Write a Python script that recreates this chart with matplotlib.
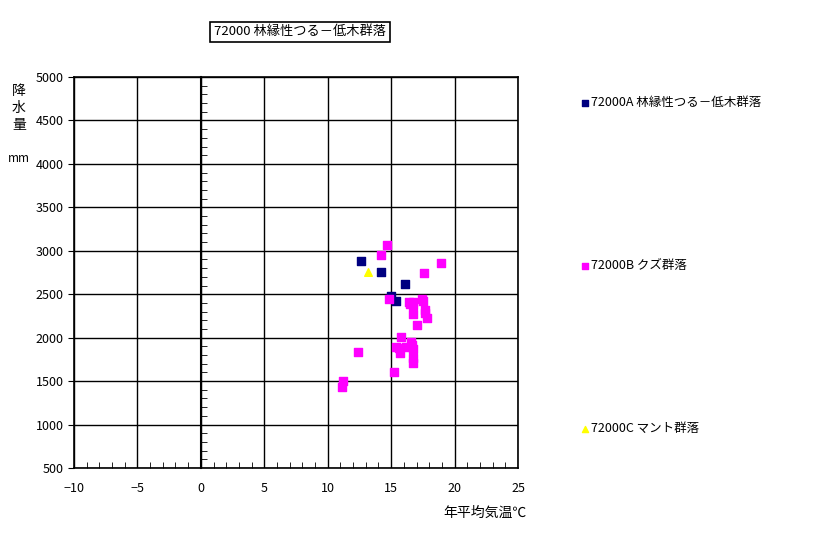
import matplotlib
matplotlib.use("Agg")
import matplotlib.pyplot as plt
from matplotlib.ticker import MultipleLocator

plt.rcParams['font.family'] = ['Noto Sans CJK JP', 'DejaVu Sans']

# annual mean temperature (degC) / precipitation (mm)
a_temp = [12.6, 14.2, 16.1, 15.0, 15.4]
a_prec = [2886, 2759, 2621, 2483, 2422]

b_temp = [14.7, 14.2, 18.9, 17.6, 14.8, 16.4, 16.7, 16.5, 16.7, 17.4,
          17.5, 16.7, 17.65, 17.65, 17.8, 17.0, 15.75, 15.4, 15.6, 15.7,
          16.15, 16.6, 16.65, 16.75, 16.7, 16.75, 12.4, 15.2, 11.2, 11.1]
b_prec = [3070, 2955, 2863, 2748, 2448, 2407, 2407, 2384, 2376, 2445,
          2425, 2269, 2318, 2280, 2230, 2149, 2011, 1896, 1878, 1827,
          1896, 1954, 1916, 1866, 1763, 1705, 1839, 1608, 1505, 1429]

c_temp = [13.2]
c_prec = [2756]

title = "72000 林縁性つる－低木群落"
labels = ["72000A 林縁性つる－低木群落", "72000B クズ群落", "72000C マント群落"]

fig = plt.figure(figsize=(8.16, 5.34), dpi=100)
ax = fig.add_axes([74 / 816, 66 / 534, 444 / 816, 391 / 534])

ax.scatter(a_temp, a_prec, marker='s', s=26, color='#000080', label=labels[0], zorder=3)
ax.scatter(b_temp, b_prec, marker='s', s=26, color='#FF00FF', label=labels[1], zorder=3)
ax.scatter(c_temp, c_prec, marker='^', s=30, color='#FFFF00', label=labels[2], zorder=3)

ax.set_xlim(-10, 25)
ax.set_ylim(500, 5000)
ax.xaxis.set_major_locator(MultipleLocator(5))
ax.yaxis.set_major_locator(MultipleLocator(500))
ax.xaxis.set_minor_locator(MultipleLocator(1))
ax.grid(True, color='black', linewidth=1)
ax.set_axisbelow(True)
for s in ax.spines.values():
    s.set_linewidth(1.2)
ax.tick_params(axis='x', which='major', length=0, pad=10, labelsize=9)
ax.tick_params(axis='x', which='minor', direction='in', length=4, bottom=True)
ax.tick_params(axis='y', which='major', direction='out', length=4, labelsize=9)

# value axis crossing at x = 0
sec = ax.secondary_yaxis(10 / 35)
sec.spines['left'].set_linewidth(1.5)
sec.yaxis.set_major_locator(MultipleLocator(500))
sec.yaxis.set_minor_locator(MultipleLocator(100))
sec.tick_params(which='both', direction='in', labelleft=False)
sec.tick_params(which='major', length=0)
sec.tick_params(which='minor', length=4)

fig.text(19 / 816, 1 - 108 / 534, "降\n水\n量", fontsize=10, ha='center', va='center', linespacing=1.25)
fig.text(19 / 816, 1 - 158 / 534, "mm", fontsize=8.5, ha='center', va='center')
fig.text(527 / 816, 1 - 513 / 534, "年平均気温℃", fontsize=10, ha='right', va='center')

fig.text(300 / 816, 1 - 32 / 534, title, fontsize=9.5, ha='center', va='center',
         bbox=dict(boxstyle='square,pad=0.3', facecolor='white', edgecolor='black', linewidth=1.2))

leg = ax.legend(loc='upper left', bbox_to_anchor=(572 / 816, 1 - 90 / 534),
                bbox_transform=fig.transFigure, frameon=False, fontsize=9,
                labelspacing=12.0, handletextpad=0.0, borderpad=0, handlelength=1.0,
                markerscale=0.8)

fig.savefig("out.png", dpi=100)
